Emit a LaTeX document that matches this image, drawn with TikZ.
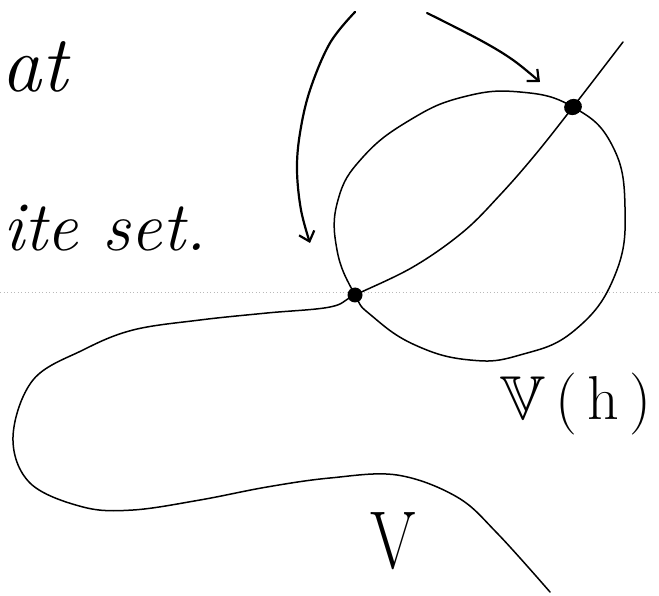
\documentclass[tikz,border=0pt]{standalone}
\usepackage{amsmath,amssymb}
\usetikzlibrary{arrows.meta}

\begin{document}
\begin{tikzpicture}[x=1pt,y=-1pt,
  pen/.style={line width=1.5pt,line cap=round,line join=round},
  heavy/.style={line width=2.2pt,line cap=round,line join=round},
  >={Straight Barb[length=9pt,width=16pt]},
  hand/.style={inner sep=0pt,font=\fontsize{#1}{#1}\selectfont\itshape}]
\useasboundingbox (0,0) rectangle (659,596);
\draw[gray!55,line width=0.6pt,dash pattern=on 1pt off 2.5pt] (0,292) -- (659,292);
\coordinate (p) at (355,295);
\coordinate (q) at (573,107);
\coordinate (tipl) at (310,243);
\coordinate (tipr) at (540,82);
\draw[pen] plot[smooth cycle,tension=0.75] coordinates {(q) (612,145) (625,207)
  (615,275) (575,330) (520,355) (470,360) (415,345) (372,316) (p)
  (337,250) (338,200) (363,157) (410,120) (463,97) (520,92)};
\draw[pen] plot[smooth,tension=0.6] coordinates {(623,42) (q) (535,155) (500,195) (463,232)
  (413,267) (p) (330,307) (267,313) (200,320) (133,330) (83,350) (33,380)
  (13,437) (30,483) (83,507) (133,510) (200,500) (267,487) (330,478) (397,475) (457,497)
  (497,533) (550,592)};
\draw[heavy,->] plot[smooth,tension=0.6] coordinates {(355,12) (330,43) (310,90) (300,133)
  (297,170) (301,210) (tipl)};
\draw[heavy,->] plot[smooth,tension=0.6] coordinates {(427,13) (480,40) (513,60) (tipr)};
\fill (p) circle (7.5);
\fill[rotate around={20:(q)}] (q) ellipse (9 and 8);
\node[hand=80,anchor=base west] (that) at (1,92) {at};
\node[hand=70,anchor=base west] (finite) at (3,251) {ite set.};
\node[inner sep=0pt,font=\fontsize{62}{62}\selectfont] (Vh) at (576,404) {$\mathbb{V}$\,(\,h\,)};
\node[inner sep=0pt,font=\fontsize{82}{82}\selectfont,xscale=0.8] (V) at (393,541) {V};
\end{tikzpicture}
\end{document}
